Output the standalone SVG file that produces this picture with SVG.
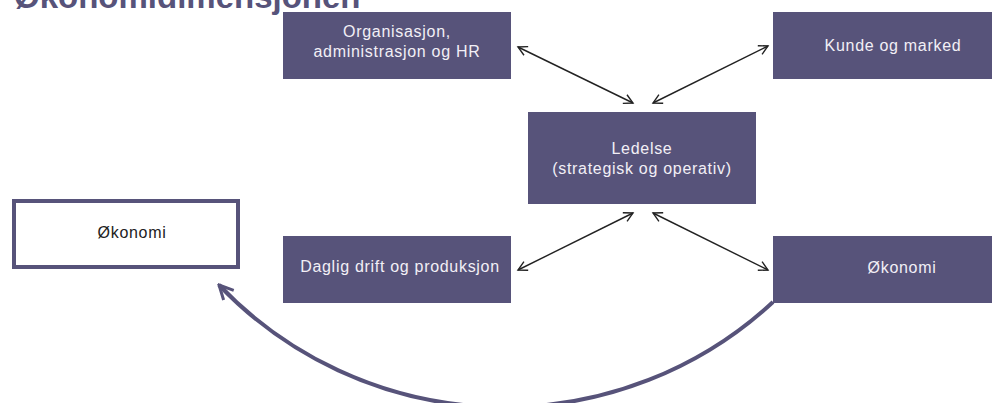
<svg xmlns="http://www.w3.org/2000/svg" width="992" height="403" viewBox="0 0 992 403">
<defs>
<style>
.box{fill:#57537a}
.lbl{font-family:"Liberation Sans",Arial,sans-serif;font-size:16px;letter-spacing:0.7px;fill:#f2eff6;text-anchor:middle}
.dark{fill:#222}
.con{fill:none;stroke:#222;stroke-width:1.4}
.big{fill:none;stroke:#57537a;stroke-width:4}
</style>
<marker id="ah" viewBox="-10 -6 12 12" refX="0" refY="0" markerWidth="12" markerHeight="12" markerUnits="userSpaceOnUse" orient="auto-start-reverse">
<path d="M-9,-4.8 L0,0 L-9,4.8" fill="none" stroke="#222" stroke-width="1.4"/>
</marker>
<marker id="bh" viewBox="-18 -10 20 20" refX="0" refY="0" markerWidth="20" markerHeight="20" markerUnits="userSpaceOnUse" orient="auto">
<path d="M-14,-7 L0,0 L-14,7" fill="none" stroke="#57537a" stroke-width="3"/>
</marker>
</defs>
<rect width="992" height="403" fill="#fff"/>
<text x="14" y="8" font-family="Liberation Sans,Arial,sans-serif" font-size="33" font-weight="bold" fill="#57537a">Økonomidimensjonen</text>
<g id="connectors">
<line class="con" x1="518" y1="47" x2="633" y2="103" marker-start="url(#ah)" marker-end="url(#ah)"/>
<line class="con" x1="768" y1="46" x2="653" y2="103" marker-start="url(#ah)" marker-end="url(#ah)"/>
<line class="con" x1="633" y1="213" x2="518" y2="270" marker-start="url(#ah)" marker-end="url(#ah)"/>
<line class="con" x1="653" y1="213" x2="768" y2="270" marker-start="url(#ah)" marker-end="url(#ah)"/>
<path class="big" d="M773,302 A395,395 0 0 1 219,285" marker-end="url(#bh)"/>
</g>
<g id="org">
<rect class="box" x="283" y="12" width="228" height="67"/>
<text class="lbl" x="397" y="37">Organisasjon,</text>
<text class="lbl" x="397" y="57">administrasjon og HR</text>
</g>
<g id="kunde">
<rect class="box" x="773" y="12" width="230" height="67"/>
<text class="lbl" x="893" y="51">Kunde og marked</text>
</g>
<g id="ledelse">
<rect class="box" x="528" y="112" width="228" height="92"/>
<text class="lbl" x="642" y="154">Ledelse</text>
<text class="lbl" x="642" y="174">(strategisk og operativ)</text>
</g>
<g id="daglig">
<rect class="box" x="283" y="236" width="228" height="67"/>
<text class="lbl" x="400" y="272">Daglig drift og produksjon</text>
</g>
<g id="okonomi-right">
<rect class="box" x="773" y="236" width="230" height="67"/>
<text class="lbl" x="902" y="273">Økonomi</text>
</g>
<g id="okonomi-left">
<rect x="14" y="201" width="224" height="66" fill="#fff" stroke="#57537a" stroke-width="4"/>
<text class="lbl dark" x="132" y="238">Økonomi</text>
</g>
</svg>
